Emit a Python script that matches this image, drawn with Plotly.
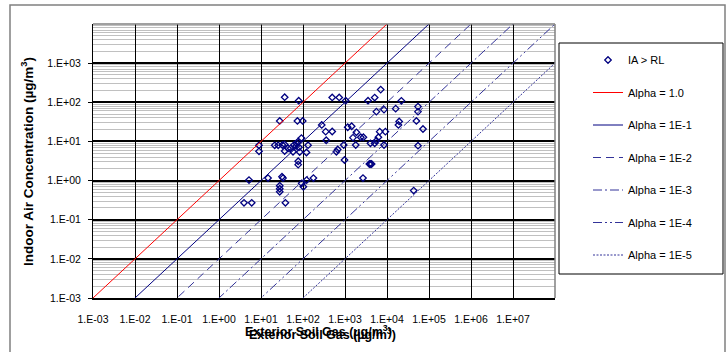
import plotly.graph_objects as go

# ---------------- data ----------------
soil_gas = [36.6, 79, 496, 728, 1040, 27.9, 73.6, 98.4, 279, 347, 496, 357, 1160,
            8.96, 8.96, 21.2, 25.7, 32.3, 36.6, 44.0, 50.9, 61.1, 69.6, 76.0, 91.6,
            68.9, 80.3, 36.6, 57.8, 83.4, 121, 132, 76.9, 76.9, 624, 670, 931, 973,
            5.18, 14.7, 31.6, 33.4, 27.9, 27.9, 27.9, 93.1, 102, 122, 177,
            3.94, 6.01, 38.1, 7080, 5090, 3530, 22000, 8490, 5590, 16100, 54700,
            54700, 19500, 18700, 50100, 71900, 1440, 1870, 1550, 2370, 2740, 6700,
            9160, 6240, 5590, 4030, 5090, 8490, 1800, 3800, 4030, 4300, 2680,
            54700, 43200]
indoor_air = [135, 110, 133, 133, 110, 33.4, 33.4, 33.4, 26.4, 17.8, 17.9, 10.7, 23.0,
              7.96, 5.59, 7.96, 7.96, 8.11, 8.35, 6.67, 6.67, 8.11, 8.96, 9.85, 12.2,
              7.64, 7.08, 5.69, 5.46, 5.37, 5.21, 8.02, 3.12, 2.55, 5.46, 6.22, 8.11, 3.35,
              1.03, 1.16, 1.25, 1.16, 0.736, 0.617, 0.517, 0.849, 0.695, 1.03, 1.16,
              0.270, 0.270, 0.270, 211, 132, 110, 109, 64.9, 57.7, 68.8, 77.5,
              57.7, 32.4, 26.4, 33.4, 20.8, 24.4, 17.1, 12.5, 12.8, 12.8, 17.8,
              17.8, 12.8, 10.4, 8.96, 8.96, 8.11, 8.11, 2.65, 2.65, 2.65, 1.16,
              7.78, 0.555]

alpha_values = [1.0, 1e-1, 1e-2, 1e-3, 1e-4, 1e-5]
alpha_labels = ["Alpha = 1.0", "Alpha = 1E-1", "Alpha = 1E-2",
                "Alpha = 1E-3", "Alpha = 1E-4", "Alpha = 1E-5"]
line_x = [1e-3, 1e8]

x_tick_vals = [1e-3, 1e-2, 1e-1, 1e0, 1e1, 1e2, 1e3, 1e4, 1e5, 1e6, 1e7]
x_tick_text = ["1.E-03", "1.E-02", "1.E-01", "1.E+00", "1.E+01", "1.E+02",
               "1.E+03", "1.E+04", "1.E+05", "1.E+06", "1.E+07"]
y_tick_vals = [1e-3, 1e-2, 1e-1, 1e0, 1e1, 1e2, 1e3]
y_tick_text = ["1.E-03", "1.E-02", "1.E-01", "1.E+00", "1.E+01", "1.E+02", "1.E+03"]

# ---------------- styles ----------------
FONT = "Liberation Sans, Arial, sans-serif"
NAVY = "#000080"
line_styles = [
    dict(color="#ff0000", width=1, dash="solid"),
    dict(color=NAVY, width=1, dash="solid"),
    dict(color="#333399", width=1, dash="8px,5px"),
    dict(color="#333399", width=1, dash="9px,3px,2px,3px"),
    dict(color="#333399", width=1, dash="9px,3px,2px,3px,2px,3px"),
    dict(color="#333399", width=1, dash="2px,1.5px"),
]

fig = go.Figure()

fig.add_trace(go.Scatter(
    x=soil_gas, y=indoor_air, mode="markers", name="IA > RL",
    legendgroup="g0",
    marker=dict(symbol="diamond-open", size=5, color=NAVY, line=dict(width=1.3, color=NAVY)),
))

for i, (a, lab) in enumerate(zip(alpha_values, alpha_labels)):
    fig.add_trace(go.Scatter(
        x=line_x, y=[a * v for v in line_x], mode="lines", name=lab,
        legendgroup=f"g{i+1}", line=line_styles[i],
    ))

# pixel helpers for paper coords
L, R, T, B = 93, 171, 24, 54
W, H = 726, 352
PW, PH = W - L - R, H - T - B


def px(xpix):
    return (xpix - L) / PW


def py(ypix):
    return (H - B - ypix) / PH


shapes = [
    # outer chart border
    dict(type="rect", xref="paper", yref="paper", x0=px(10), x1=px(725), y0=py(5), y1=py(360),
         line=dict(color="#808080", width=1.5), fillcolor="rgba(0,0,0,0)", layer="above"),
    # top/right plot border (gray)
    dict(type="line", xref="paper", yref="paper", x0=0, x1=1, y0=1, y1=1,
         line=dict(color="#808080", width=1.5), layer="above"),
    dict(type="line", xref="paper", yref="paper", x0=1, x1=1, y0=0, y1=1,
         line=dict(color="#808080", width=1.5), layer="above"),
    # legend box
    dict(type="rect", xref="paper", yref="paper", x0=px(559), x1=px(723), y0=py(274), y1=py(43),
         line=dict(color="#000000", width=1), fillcolor="white", layer="below"),
]

title_x = "Exterior Soil Gas (µg/m<sup>3</sup>)"
annotations = [
    dict(text=title_x, xref="paper", yref="paper", x=px(318), y=py(331), showarrow=False,
         xanchor="center", yanchor="middle", font=dict(family=FONT, size=12.5, color="black"),
         ),
    dict(text=title_x, xref="paper", yref="paper", x=px(322), y=py(334), showarrow=False,
         xanchor="center", yanchor="middle", font=dict(family=FONT, size=12.5, color="black"),
         ),
    dict(text="Indoor Air Concentration (µg/m<sup>3</sup>)", xref="paper", yref="paper",
         x=px(27), y=py(162), showarrow=False, textangle=-90,
         xanchor="center", yanchor="middle", font=dict(family=FONT, size=13.5, color="black")),
]
for a in annotations:
    a["text"] = "<b>" + a["text"] + "</b>"

fig.update_layout(
    width=W, height=H,
    margin=dict(l=L, r=R, t=T, b=B, pad=0),
    paper_bgcolor="white", plot_bgcolor="white",
    font=dict(family=FONT, size=10.5, color="black"),
    showlegend=True,
    legend=dict(x=px(588), y=py(45.5), xanchor="left", yanchor="top",
                bgcolor="rgba(0,0,0,0)", borderwidth=0, tracegroupgap=13.5,
                font=dict(family=FONT, size=11, color="black"), itemwidth=30),
    shapes=shapes,
    annotations=annotations,
)

fig.update_xaxes(
    type="log", range=[-3, 8],
    tickvals=x_tick_vals, ticktext=x_tick_text,
    showgrid=True, gridcolor="black", gridwidth=1,
    showline=True, linecolor="black", linewidth=2,
    ticks="", ticklabelstandoff=10,
    zeroline=False, automargin=False,
)
fig.update_yaxes(
    type="log", range=[-3, 4],
    tickvals=y_tick_vals, ticktext=y_tick_text,
    showgrid=True, gridcolor="black", gridwidth=2,
    minor=dict(dtick="D1", showgrid=True, gridcolor="#c0c0c0", gridwidth=1, ticks=""),
    showline=True, linecolor="black", linewidth=1,
    ticks="outside", ticklen=4, tickcolor="black", ticklabelstandoff=5,
    zeroline=False, automargin=False,
)

fig.write_html("out.html", config={"displayModeBar": False},
               post_script="document.body.style.margin='0';")
